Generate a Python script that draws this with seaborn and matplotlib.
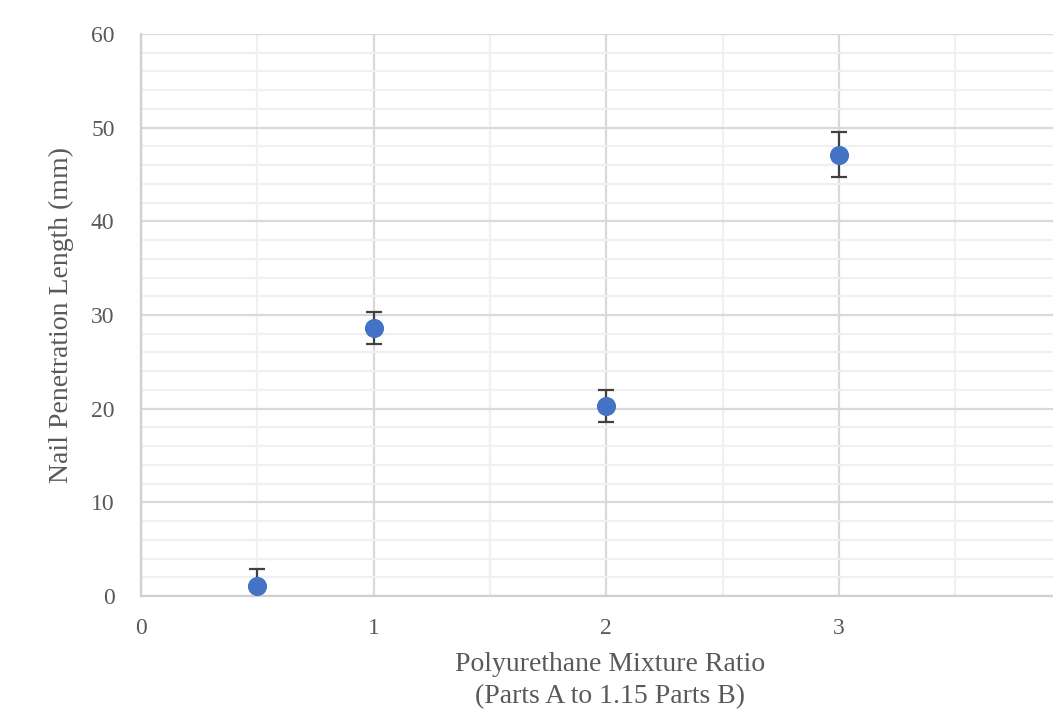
import matplotlib
matplotlib.use("Agg")
import matplotlib.pyplot as plt
from matplotlib.ticker import MultipleLocator
import seaborn as sns
import pandas as pd

# mixture ratio vs nail penetration
ratio = [0.5, 1, 2, 3]
penetration = [1.1, 28.6, 20.3, 47.1]
err = [1.8, 1.7, 1.7, 2.4]

dot_clr = "#4472C4"
bar_clr = "#404040"
txt_clr = "#595959"

sns.set_theme(style="white")
plt.rcParams["font.family"] = ["Liberation Serif", "DejaVu Serif"]

df = pd.DataFrame({"ratio": ratio, "penetration": penetration, "err": err})

fig = plt.figure(figsize=(10.53, 7.2), dpi=100)
# the plot runs off the right edge of the figure, like the source image
ax = fig.add_axes([0.1339, 0.1722, 0.8661, 0.7806])

ax.errorbar(df["ratio"], df["penetration"], yerr=df["err"], fmt="none",
            ecolor=bar_clr, elinewidth=1.6, capsize=5.5, capthick=1.6,
            zorder=3)
sns.scatterplot(data=df, x="ratio", y="penetration", ax=ax, color=dot_clr,
                s=190, edgecolor=dot_clr, linewidth=0, zorder=4)

ax.set_xlim(0, 3.92)
ax.set_ylim(0, 60)
ax.xaxis.set_major_locator(MultipleLocator(1))
ax.xaxis.set_minor_locator(MultipleLocator(0.5))
ax.yaxis.set_major_locator(MultipleLocator(10))
ax.yaxis.set_minor_locator(MultipleLocator(2))
ax.grid(which="major", color="#d9d9d9", linewidth=1.6)
ax.grid(which="minor", color="#f0f0f0", linewidth=1.6)
ax.set_axisbelow(True)
ax.tick_params(which="both", length=0, labelsize=17, colors=txt_clr)
ax.tick_params(axis="y", pad=19)
ax.tick_params(axis="x", pad=16)

for side in ["top", "right"]:
    ax.spines[side].set_visible(False)
for side in ["left", "bottom"]:
    ax.spines[side].set_color("#d0d0d0")
    ax.spines[side].set_linewidth(1.6)

ax.set_xlabel("Polyurethane Mixture Ratio\n(Parts A to 1.15 Parts B)",
              fontsize=20, color=txt_clr, linespacing=1.35)
ax.xaxis.set_label_coords((610 - 141) / 912, -0.1, transform=ax.transAxes)
ax.xaxis.label.set_va("top")
ax.set_ylabel("Nail Penetration Length (mm)", fontsize=20, color=txt_clr,
              labelpad=12)

fig.savefig("out.png", dpi=100)
